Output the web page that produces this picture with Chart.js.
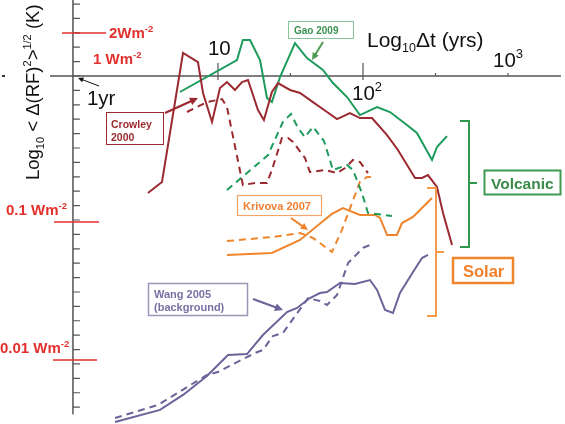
<!DOCTYPE html>
<html>
<head>
<meta charset="utf-8">
<script src="https://cdn.jsdelivr.net/npm/chart.js@4.4.1/dist/chart.umd.min.js"></script>
<style>
  html, body { margin: 0; padding: 0; background: #fff; }
  canvas { display: block; }
</style>
</head>
<body>
<canvas id="c" width="565" height="424"></canvas>
<script>
// x = log10(dt / yrs), y = log10 <dRF^2>^1/2 (K)
var crowleySolid = [[0.517,-0.813],[0.614,-0.736],[0.759,0.160],[0.862,0.097],[0.897,-0.118],[0.959,-0.319],[1.014,-0.083],[1.062,-0.042],[1.117,-0.097],[1.166,-0.042],[1.207,-0.028],[1.276,-0.236],[1.317,-0.306],[1.372,-0.111],[1.414,-0.049],[1.497,-0.097],[1.566,-0.118],[1.655,-0.181],[1.752,-0.250],[1.821,-0.299],[1.910,-0.257],[1.979,-0.292],[2.062,-0.292],[2.166,-0.410],[2.241,-0.514],[2.359,-0.708],[2.407,-0.708],[2.448,-0.688],[2.510,-0.771],[2.552,-0.951],[2.614,-1.174]];
var crowleyDash = [[0.786,-0.250],[0.924,-0.181],[1.028,-0.160],[1.062,-0.215],[1.172,-0.757],[1.255,-0.743],[1.338,-0.743],[1.372,-0.653],[1.441,-0.431],[1.483,-0.431],[1.517,-0.458],[1.600,-0.569],[1.634,-0.667],[1.738,-0.653],[1.821,-0.674],[1.876,-0.639],[1.931,-0.583],[1.979,-0.597],[2.034,-0.674]];
var gaoSolid = [[0.738,-0.111],[1.131,0.111],[1.172,0.250],[1.221,0.250],[1.290,0.111],[1.338,-0.153],[1.372,-0.181],[1.428,-0.007],[1.531,0.229],[1.614,0.125],[1.724,0.042],[1.793,-0.049],[1.890,-0.146],[1.979,-0.271],[2.097,-0.215],[2.186,-0.250],[2.303,-0.340],[2.372,-0.396],[2.476,-0.583],[2.510,-0.493],[2.579,-0.417]];
var gaoDash = [[1.062,-0.792],[1.345,-0.549],[1.448,-0.319],[1.503,-0.264],[1.552,-0.361],[1.600,-0.424],[1.655,-0.354],[1.731,-0.451],[1.793,-0.653],[1.890,-0.618],[1.931,-0.653],[1.993,-0.813],[2.034,-0.951],[2.200,-0.972]];
var krivovaSolid = [[1.062,-1.243],[1.372,-1.229],[1.566,-1.139],[1.683,-1.042],[1.786,-0.958],[1.862,-0.917],[1.979,-0.965],[2.083,-0.965],[2.117,-0.986],[2.166,-1.104],[2.234,-1.104],[2.269,-1.021],[2.345,-0.979],[2.476,-0.847]];
var krivovaDash = [[1.062,-1.146],[1.379,-1.118],[1.566,-1.090],[1.655,-1.125],[1.786,-1.222],[1.855,-1.069],[1.924,-0.882],[1.979,-0.736],[2.028,-0.701],[2.083,-0.701]];
var wangSolid = [[0.290,-2.403],[0.600,-2.319],[0.759,-2.215],[0.924,-2.083],[1.069,-1.938],[1.200,-1.931],[1.310,-1.799],[1.476,-1.639],[1.545,-1.611],[1.634,-1.542],[1.703,-1.507],[1.752,-1.500],[1.841,-1.438],[1.945,-1.444],[2.048,-1.417],[2.097,-1.486],[2.152,-1.625],[2.207,-1.646],[2.255,-1.507],[2.345,-1.361],[2.407,-1.264],[2.448,-1.243]];
var wangDash = [[0.290,-2.375],[0.586,-2.285],[0.924,-2.076],[1.000,-2.056],[1.255,-1.924],[1.310,-1.903],[1.379,-1.806],[1.448,-1.785],[1.621,-1.542],[1.703,-1.563],[1.752,-1.590],[1.821,-1.521],[1.897,-1.299],[2.000,-1.194],[2.048,-1.174]];

// axis ticks
var xMajorTicks = [1, 2];
var xMinorTicks = [1.5, 2.5, 3];
var xTickText = ['1yr', '10', '10', '10'];
var xTickSup = ['', '', '2', '3'];
var xTickVals = [0, 1, 2, 3];
// radiative forcing reference levels (log10 K)
var rfText = ['2Wm', '1 Wm', '0.1 Wm', '0.01 Wm'];
var rfVals = [0.299, 0.08, -1.014, -1.972];

var RED = '#9b2a30', GREEN = '#1d9a5c', ORANGE = '#f0852c', PURPLE = '#6a6498', RFRED = '#e2312d';

function pts(a) {
    return a.map(function (p) { return {x: p[0], y: p[1]}; });
}
function ds(a, color, dashed) {
    return {data: pts(a), borderColor: color, borderWidth: 2, borderDash: dashed ? [7, 5] : [],
            pointRadius: 0, fill: false, tension: 0};
}

// draws text pieces one after the other: [text, size, dy]
function rich(ctx, x, y, parts, bold) {
    parts.forEach(function (p) {
        ctx.font = (bold ? 'bold ' : '') + p[1] + 'px "Liberation Sans", Arial, sans-serif';
        ctx.fillText(p[0], x, y + (p[2] || 0));
        x += ctx.measureText(p[0]).width;
    });
    return x;
}

function arrow(ctx, x1, y1, x2, y2, color, w, head) {
    var a = Math.atan2(y2 - y1, x2 - x1);
    ctx.strokeStyle = color; ctx.fillStyle = color; ctx.lineWidth = w;
    ctx.beginPath();
    ctx.moveTo(x1, y1);
    ctx.lineTo(x2 - Math.cos(a) * head * 0.8, y2 - Math.sin(a) * head * 0.8);
    ctx.stroke();
    ctx.beginPath();
    ctx.moveTo(x2, y2);
    ctx.lineTo(x2 - head * Math.cos(a - 0.45), y2 - head * Math.sin(a - 0.45));
    ctx.lineTo(x2 - head * Math.cos(a + 0.45), y2 - head * Math.sin(a + 0.45));
    ctx.closePath();
    ctx.fill();
}

function box(ctx, x, y, w, h, color, lw) {
    ctx.strokeStyle = color; ctx.lineWidth = lw;
    ctx.strokeRect(x, y, w, h);
}

function bracket(ctx, x, y1, y2, ym, color) {
    ctx.strokeStyle = color; ctx.lineWidth = 2;
    ctx.beginPath();
    ctx.moveTo(x - 9, y1); ctx.lineTo(x, y1); ctx.lineTo(x, y2); ctx.lineTo(x - 9, y2);
    ctx.moveTo(x, ym); ctx.lineTo(x + 8, ym);
    ctx.stroke();
}

var decor = {
    id: 'decor',
    beforeDatasetsDraw: function (chart) {
        var ctx = chart.ctx, xs = chart.scales.x, ys = chart.scales.y;
        var x0 = xs.getPixelForValue(0), y0 = ys.getPixelForValue(0);
        ctx.save();
        ctx.strokeStyle = '#555'; ctx.lineWidth = 1.5;
        ctx.beginPath();
        ctx.moveTo(x0, 0); ctx.lineTo(x0, ys.getPixelForValue(-2.35));
        ctx.moveTo(50, y0); ctx.lineTo(561, y0);
        ctx.stroke();
        // y minor ticks every 0.1
        ctx.lineWidth = 1.2;
        ctx.beginPath();
        for (var k = -23; k <= 5; k++) {
            var ty = ys.getPixelForValue(k / 10);
            ctx.moveTo(x0, ty); ctx.lineTo(x0 + 7, ty);
        }
        xMajorTicks.forEach(function (v) {
            var tx = xs.getPixelForValue(v);
            ctx.moveTo(tx, y0 - 13); ctx.lineTo(tx, y0 + 4);
        });
        xMinorTicks.forEach(function (v) {
            var tx = xs.getPixelForValue(v);
            ctx.moveTo(tx, y0 - 3); ctx.lineTo(tx, y0);
        });
        ctx.stroke();
        ctx.fillStyle = '#333';
        ctx.fillRect(2, y0 - 1, 3, 2);

        // RF reference markers
        ctx.strokeStyle = RFRED; ctx.lineWidth = 1.5;
        ctx.beginPath();
        [[0, 62, 106], [2, 54, 99], [3, 53, 97]].forEach(function (r) {
            var ry = ys.getPixelForValue(rfVals[r[0]]);
            ctx.moveTo(r[1], ry); ctx.lineTo(r[2], ry);
        });
        ctx.stroke();
        ctx.restore();
    },
    afterDatasetsDraw: function (chart) {
        var ctx = chart.ctx, xs = chart.scales.x, ys = chart.scales.y;
        var y0 = ys.getPixelForValue(0);
        ctx.save();
        ctx.textBaseline = 'alphabetic';

        // axis titles
        ctx.fillStyle = '#111';
        ctx.save();
        ctx.translate(39, 180);
        ctx.rotate(-Math.PI / 2);
        rich(ctx, 0, 0, [['Log', 18.5], ['10', 11, 5], [' < \u0394(RF)', 18.5], ['2', 11, -8], ['>', 18.5], ['1/2', 11, -8], [' (K)', 18.5]]);
        ctx.restore();
        rich(ctx, 367, 47, [['Log', 21], ['10', 12.5, 5], ['\u0394t (yrs)', 21]]);

        // x tick labels
        var off = [[14, 29], [-10, -21], [-11, 24], [-15, -9]];
        xTickVals.forEach(function (v, i) {
            var tx = xs.getPixelForValue(v) + off[i][0];
            var ex = rich(ctx, tx, y0 + off[i][1], [[xTickText[i], 20.5]]);
            if (xTickSup[i]) rich(ctx, ex, y0 + off[i][1], [[xTickSup[i], 13, -9]]);
        });
        arrow(ctx, 99, 86, 78, 78, '#111', 1, 6);

        // RF labels
        ctx.fillStyle = RFRED;
        var rfPos = [[109, 5], [93, 0], [6, -7], [0, -7]];
        rfText.forEach(function (t, i) {
            var ry = ys.getPixelForValue(rfVals[i]) + rfPos[i][1];
            var ex = rich(ctx, rfPos[i][0], ry, [[t, 15]], true);
            rich(ctx, ex, ry, [['-2', 9.5, -6]], true);
        });

        // study labels
        box(ctx, 106.5, 112.5, 57, 32, RED, 1);
        ctx.fillStyle = RED;
        rich(ctx, 111, 128, [['Crowley', 10.5]], true);
        rich(ctx, 111, 141, [['2000', 10.5]], true);
        arrow(ctx, 165, 113, 198, 98, RED, 2.2, 9);

        box(ctx, 288.5, 21.5, 65, 17, '#86c49a', 1);
        ctx.fillStyle = '#3d9150';
        rich(ctx, 294, 34, [['Gao 2009', 10]], true);
        arrow(ctx, 323, 42, 312, 60, '#4f9a50', 2, 8);

        box(ctx, 237.5, 195.5, 84, 20, '#f3a56a', 1.2);
        ctx.fillStyle = '#f07f35';
        rich(ctx, 243, 209.5, [['Krivova 2007', 11]], true);
        arrow(ctx, 291, 218, 308, 230, ORANGE, 2, 8);

        box(ctx, 148.5, 283.5, 99, 32, '#9a96b8', 1.5);
        ctx.fillStyle = '#7771a5';
        rich(ctx, 154, 298, [['Wang 2005', 11]], true);
        rich(ctx, 154, 310.5, [['(background)', 11]], true);
        arrow(ctx, 253, 299, 283, 310, PURPLE, 2.2, 9);

        // forcing groups
        bracket(ctx, 469, 121, 247, 183, '#2f9a4e');
        box(ctx, 484.5, 170.5, 76, 24, '#3d9a50', 2);
        ctx.fillStyle = '#3a8a48';
        rich(ctx, 491, 189, [['Volcanic', 15.5]], true);

        bracket(ctx, 436, 188, 316, 252, '#f29a4a');
        box(ctx, 453, 258, 60, 25, ORANGE, 2.5);
        ctx.fillStyle = '#f07f2a';
        rich(ctx, 463, 277, [['Solar', 16.5]], true);

        ctx.restore();
    }
};

var chart = new Chart(document.getElementById('c').getContext('2d'), {
    type: 'line',
    data: {
        datasets: [
            ds(crowleySolid, RED, false), ds(crowleyDash, RED, true),
            ds(gaoSolid, GREEN, false), ds(gaoDash, GREEN, true),
            ds(krivovaSolid, ORANGE, false), ds(krivovaDash, ORANGE, true),
            ds(wangSolid, PURPLE, false), ds(wangDash, PURPLE, true)
        ]
    },
    options: {
        responsive: false,
        animation: false,
        devicePixelRatio: 1,
        layout: {padding: 0},
        plugins: {legend: {display: false}, tooltip: {enabled: false}},
        scales: {
            x: {type: 'linear', min: -0.503, max: 3.393, display: false},
            y: {type: 'linear', min: -2.417, max: 0.528, display: false}
        }
    },
    plugins: [decor]
});
</script>
</body>
</html>
